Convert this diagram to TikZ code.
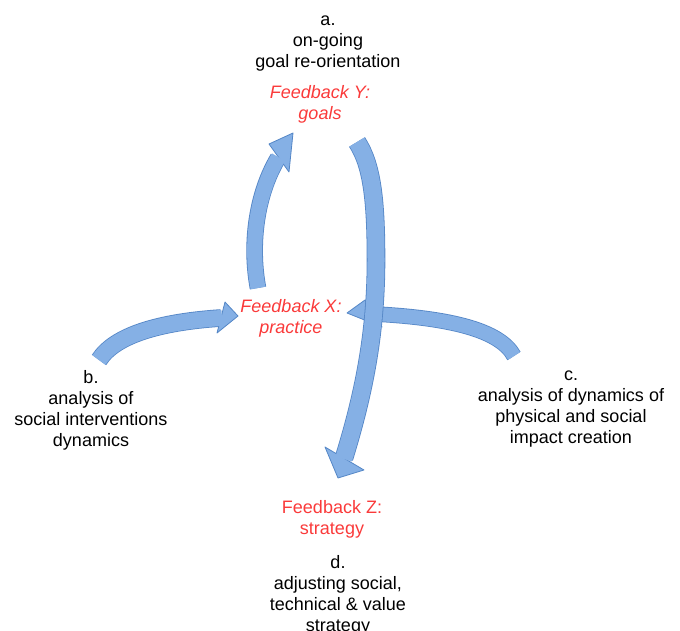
\documentclass[tikz,border=0pt]{standalone}
\usepackage{fontspec}
\setmainfont{Liberation Sans}
\definecolor{arrowfill}{RGB}{133,176,229}
\definecolor{arrowedge}{RGB}{84,134,198}
\definecolor{fbred}{RGB}{250,58,58}
\begin{document}
\begin{tikzpicture}[x=1pt,y=-1pt,
  lbl/.style={align=center, font=\fontsize{18}{21}\selectfont, inner sep=0pt, anchor=base},
  fb/.style={lbl, text=fbred},
  fbi/.style={fb, font=\fontsize{18}{21}\selectfont\itshape},
  edgestroke/.style={draw=arrowedge, line width=#1},
  bodystroke/.style={draw=arrowfill, line width=#1, shorten >=-1pt},
  headshape/.style={fill=arrowfill, draw=arrowedge, line width=0.8pt, line join=round}]
\useasboundingbox (0,0) rectangle (680,631);

% labels (anchor = baseline of the last line)
\node[lbl] (a) at (328,68) {a.\\on-going\\goal re-orientation};
\node[fbi] (y) at (320,120) {Feedback Y:\\goals};
\node[fbi] (x) at (291,333) {Feedback X:\\practice};
\node[lbl] (b) at (91,446) {b.\\analysis of\\social interventions\\dynamics};
\node[lbl] (c) at (571,443) {c.\\analysis of dynamics of\\physical and social\\impact creation};
\node[fb] (z) at (332,534) {Feedback Z:\\strategy};
\node[lbl] (d) at (338,631) {d.\\adjusting social,\\technical \& value\\strategy};

% arrow coordinates
\coordinate (t1) at (258,288); \coordinate (h1) at (278,158);
\coordinate (p1) at (293,133); \coordinate (l1) at (269,144); \coordinate (r1) at (289,172);
\coordinate (t2) at (357,142); \coordinate (h2) at (344,458);
\coordinate (p2) at (338,478); \coordinate (l2) at (325,447); \coordinate (r2) at (364,470);
\coordinate (t3) at (99,360); \coordinate (h3) at (221,318);
\coordinate (p3) at (238,316); \coordinate (l3) at (225,302); \coordinate (r3) at (217,333);
\coordinate (t4) at (514,356); \coordinate (h4) at (375,314);
\coordinate (p4) at (347,313); \coordinate (l4) at (365,300); \coordinate (r4) at (382,327);

% arrow 1: X -> Y
\draw[edgestroke=16.6pt] (t1) .. controls (250,245) and (256,195) .. (h1);
\filldraw[headshape] (p1) -- (l1) -- (r1) -- cycle;
\draw[bodystroke=15pt] (t1) .. controls (250,245) and (256,195) .. (h1);

% arrow 3: b -> X
\draw[edgestroke=17.6pt] (t3) .. controls (115,335) and (160,322) .. (h3);
\filldraw[headshape] (p3) -- (l3) -- (r3) -- cycle;
\draw[bodystroke=16pt] (t3) .. controls (115,335) and (160,322) .. (h3);

% arrow 4: c -> X
\draw[edgestroke=15.6pt] (t4) .. controls (500,330) and (450,318) .. (h4);
\filldraw[headshape] (p4) -- (l4) -- (r4) -- cycle;
\draw[bodystroke=14pt] (t4) .. controls (500,330) and (450,318) .. (h4);

% arrow 2: Y -> Z
\draw[edgestroke=18.6pt] (t2) .. controls (372,165) and (376,200) .. (376,260) .. controls (376,330) and (365,390) .. (h2);
\filldraw[headshape] (p2) -- (l2) -- (r2) -- cycle;
\draw[bodystroke=17pt] (t2) .. controls (372,165) and (376,200) .. (376,260) .. controls (376,330) and (365,390) .. (h2);
\end{tikzpicture}
\end{document}
